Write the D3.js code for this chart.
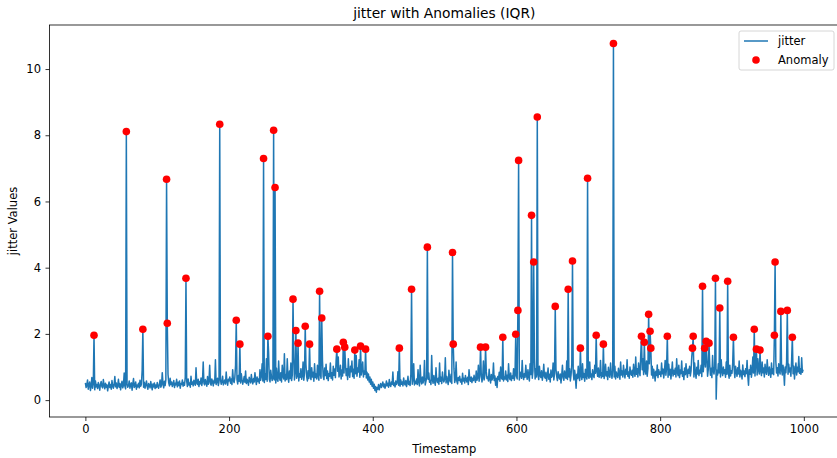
<!DOCTYPE html>
<html>
<head>
<meta charset="utf-8">
<script src="https://cdn.jsdelivr.net/npm/d3@7"></script>
<style>
  body { margin: 0; background: #fff; }
  svg { font-family: "DejaVu Sans", sans-serif; }
</style>
</head>
<body>
<div class="chart"></div>
<script>
// jitter readings, one per timestamp (0..999), anomalies laid over below
var jitter = [
  0.52,0.38,0.45,0.61,0.33,0.47,0.55,0.29,0.42,0.68,0.36,0.50,0.44,0.31,0.58,0.40,0.47,0.35,0.53,0.43,
  0.30,0.49,0.56,0.41,0.37,0.62,0.45,0.34,0.51,0.39,0.46,0.28,0.43,0.55,0.38,0.47,0.33,0.59,0.42,0.36,
  0.48,0.71,0.40,0.52,0.35,0.44,0.63,0.39,0.50,0.31,0.46,0.57,0.37,0.45,0.82,0.41,0.34,0.53,0.48,0.39,
  0.44,0.58,0.36,0.47,0.52,0.30,0.49,0.65,0.38,0.43,0.55,0.33,0.46,0.40,0.51,0.37,0.60,0.42,0.48,0.90,
  0.45,0.39,0.54,0.36,0.47,0.58,0.41,0.33,0.50,0.44,0.37,0.56,0.43,0.31,0.49,0.40,0.52,0.35,0.46,0.38,
  0.53,0.42,0.36,0.48,0.61,0.39,0.45,0.83,0.50,0.37,0.57,0.44,0.62,0.48,0.40,0.78,0.52,0.43,0.66,0.47,
  0.55,0.41,0.49,0.59,0.38,0.51,0.46,0.63,0.40,0.54,0.44,0.58,0.36,0.50,0.47,0.61,0.42,0.53,0.45,0.69,
  0.49,0.57,0.41,0.64,0.46,0.52,0.39,0.72,0.48,0.55,0.43,0.60,0.50,0.45,0.98,0.52,0.47,0.63,0.41,0.56,
  0.49,0.67,0.44,0.58,1.15,0.51,0.46,0.62,0.53,0.42,0.71,0.48,0.57,1.05,0.50,0.45,0.64,0.55,0.43,0.60,
  0.52,1.22,0.47,0.58,0.66,0.44,0.55,0.50,0.62,0.48,0.57,0.72,0.46,0.53,0.61,0.49,0.85,0.56,0.45,0.63,
  0.58,0.70,0.51,0.64,0.47,0.92,0.60,0.53,0.68,1.05,0.55,0.62,0.49,0.74,0.57,0.66,0.52,0.80,0.61,0.48,
  0.59,0.71,0.54,0.88,0.50,0.63,0.57,0.45,0.69,0.60,0.52,0.77,0.58,0.49,0.65,0.55,0.83,0.61,0.47,0.70,
  0.56,0.64,0.51,0.92,0.60,0.73,1.10,0.58,0.66,0.53,0.79,0.62,1.25,0.57,0.68,1.45,0.63,0.55,0.90,0.71,
  0.59,0.66,0.84,0.61,0.74,0.52,0.96,0.63,0.57,1.18,0.68,0.60,0.83,0.55,1.05,0.72,0.64,1.40,0.58,0.77,
  0.62,1.25,0.69,0.54,0.88,0.65,1.12,0.59,0.76,0.67,1.30,0.61,0.85,1.02,0.66,0.73,1.20,0.58,0.80,0.69,
  0.95,0.63,0.74,1.15,0.60,0.82,0.67,1.08,0.71,0.58,0.89,0.65,1.22,0.75,0.62,0.98,0.70,0.84,0.57,1.10,
  0.68,0.79,0.64,1.05,0.73,0.60,0.92,0.77,0.66,0.85,1.18,0.71,0.62,0.97,0.74,1.08,0.65,0.88,0.59,0.80,
  0.72,1.12,0.66,0.83,0.61,1.02,0.75,0.94,0.68,1.20,0.63,0.87,1.30,0.70,0.79,1.05,0.64,0.91,0.73,1.15,
  0.82,0.67,1.08,0.74,0.95,0.62,1.25,0.78,0.69,1.02,0.86,1.18,0.71,0.93,0.66,1.12,0.80,1.35,0.72,0.97,
  0.85,1.22,0.69,1.05,0.76,0.93,1.15,0.70,0.88,0.78,1.02,0.67,0.84,0.61,0.79,0.55,0.70,0.48,0.63,0.42,
  0.55,0.36,0.48,0.29,0.41,0.24,0.38,0.33,0.47,0.31,0.42,0.50,0.38,0.46,0.55,0.40,0.49,0.36,0.44,0.58,
  0.43,0.51,0.39,0.62,0.46,0.41,0.55,0.48,0.85,0.44,0.52,0.40,0.58,0.47,0.53,0.86,0.45,0.50,0.42,0.61,
  0.48,0.55,0.43,0.67,0.50,0.46,0.59,0.41,0.53,0.72,0.47,0.56,0.44,0.78,0.51,0.48,0.62,1.10,0.46,0.57,
  0.50,0.64,0.47,0.92,0.55,0.43,1.05,0.58,0.49,0.70,0.52,0.61,1.20,0.46,0.57,0.68,0.50,0.63,0.82,0.54,
  0.59,0.47,1.35,0.62,0.51,0.74,0.56,0.45,0.98,0.60,0.53,0.66,0.48,1.12,0.57,0.69,0.50,0.85,0.62,0.55,
  0.64,1.28,0.52,0.71,0.58,0.47,0.90,0.61,0.55,0.78,0.50,0.66,0.58,0.95,0.53,0.62,1.15,0.57,0.49,0.68,
  0.60,0.72,0.55,0.63,0.48,0.81,0.58,0.66,0.52,0.74,0.61,0.55,0.69,0.47,0.92,0.63,0.57,0.70,0.53,0.66,
  0.59,0.75,0.62,0.54,0.88,0.60,0.68,1.05,0.57,0.72,0.63,0.80,0.55,0.69,1.18,0.61,0.74,0.58,0.86,0.65,
  0.70,0.58,0.93,0.64,0.52,0.77,0.61,0.68,1.12,0.59,0.73,0.45,0.66,0.38,0.71,0.62,0.84,0.57,1.00,0.67,
  0.63,0.79,0.58,0.70,0.64,0.88,0.61,0.75,0.56,1.10,0.68,0.62,0.82,0.59,0.73,0.66,0.95,0.60,0.77,0.69,
  0.72,0.64,0.98,0.70,0.61,0.85,0.76,0.66,1.20,0.73,0.62,0.80,0.69,1.05,0.75,0.63,0.92,0.71,0.58,1.10,
  0.77,1.40,0.66,0.88,0.72,1.25,0.64,0.95,0.70,1.15,0.79,0.62,1.02,0.74,0.68,0.89,0.60,0.76,1.08,0.71,
  0.66,0.84,0.58,0.73,0.97,0.63,0.78,0.55,0.91,0.69,0.74,1.12,0.61,0.80,0.67,0.93,0.72,0.59,0.86,0.70,
  0.64,0.79,0.52,0.75,1.05,0.68,0.60,0.88,0.73,0.66,1.18,0.62,0.81,0.70,0.95,0.58,0.76,1.08,0.67,0.84,
  0.61,0.90,0.72,0.36,0.78,0.65,1.02,0.70,0.59,0.83,0.74,0.62,1.10,0.68,0.80,0.57,0.93,0.71,0.64,0.87,
  0.73,0.66,1.15,0.70,0.79,0.62,0.92,0.75,0.68,1.05,0.81,0.64,0.88,0.72,0.97,0.69,0.76,1.20,0.67,0.83,
  0.71,0.94,0.65,0.78,1.08,0.73,0.86,0.62,0.99,0.75,0.69,1.12,0.80,0.66,0.91,0.77,0.70,1.02,0.64,0.85,
  0.74,0.68,0.96,0.79,0.63,1.15,0.76,0.88,0.70,1.05,0.82,0.67,0.93,0.78,1.22,0.72,0.85,0.66,1.00,0.80,
  0.75,0.90,0.69,1.08,0.83,0.72,1.30,0.78,0.95,0.70,1.12,0.86,0.74,1.38,0.81,0.92,1.25,0.77,1.05,0.88,
  0.79,1.18,0.72,0.96,0.84,1.10,0.70,0.89,0.76,1.02,0.66,0.93,0.81,0.58,0.87,0.74,1.06,0.68,0.92,0.78,
  0.85,0.71,1.12,0.80,0.94,0.67,0.88,1.20,0.75,0.99,0.82,0.69,1.08,0.76,0.93,0.64,0.87,1.15,0.73,0.90,
  0.78,0.96,0.70,1.25,0.84,0.74,1.05,0.68,0.91,0.80,1.18,0.72,0.86,0.62,0.97,0.77,1.10,0.83,0.69,0.93,
  0.81,1.02,0.73,0.88,1.30,0.76,0.95,0.70,1.12,0.84,0.66,0.99,0.79,1.20,0.74,0.90,0.82,1.05,0.71,0.94,
  0.86,1.15,0.77,1.00,0.83,1.28,0.72,0.92,0.80,1.08,0.75,0.96,0.68,1.35,0.88,0.79,1.02,0.85,0.03,0.90,
  0.76,1.10,0.82,0.95,0.70,1.22,0.87,0.74,1.00,0.80,0.92,0.69,1.15,0.78,0.97,0.84,0.66,1.05,0.73,0.89,
  0.81,1.12,0.75,0.93,0.68,1.02,0.86,0.72,0.98,0.79,1.18,0.70,0.90,0.83,0.64,1.06,0.77,0.88,0.71,0.95,
  0.80,1.20,0.74,0.45,0.92,0.78,1.05,0.69,0.87,1.30,0.82,0.96,0.73,1.10,0.85,0.76,1.25,0.90,0.79,1.02,
  0.88,0.74,1.15,0.83,0.97,0.70,1.08,0.86,0.78,1.22,0.91,0.75,1.00,0.84,0.69,1.12,0.80,0.95,0.77,1.05,
  0.89,1.18,0.82,0.98,0.73,1.10,0.86,0.79,1.30,0.92,0.76,1.05,0.88,0.45,1.00,0.83,1.15,0.90,0.78,1.08,
  0.85,0.97,0.72,1.20,0.88,0.80,1.02,0.64,0.93,1.12,0.76,0.99,0.86,1.32,0.81,0.95,0.78,1.28,0.84,0.92
];

// points flagged by the IQR rule
var anomalyIdx = [12,57,80,113,114,140,187,210,215,248,254,262,264,289,293,296,306,312,326,329,
  350,359,361,375,383,390,437,454,476,511,512,550,557,581,599,602,603,621,624,629,
  654,672,678,689,699,711,721,735,774,778,784,786,787,810,845,846,859,862,864,868,
  877,883,894,902,931,934,939,959,960,968,977,984];
var anomalyVal = [1.96,8.11,2.14,6.67,2.32,3.68,8.33,2.41,1.69,7.30,1.93,8.15,6.42,3.05,2.10,1.72,2.23,1.69,3.29,2.48,
  1.54,1.75,1.60,1.51,1.63,1.54,1.57,3.35,4.62,4.46,1.69,1.60,1.60,1.90,1.99,2.71,7.24,5.58,4.17,8.55,
  2.83,3.35,4.20,1.57,6.70,1.96,1.69,10.77,1.93,1.75,2.59,2.08,1.57,1.93,1.57,1.93,3.44,1.57,1.78,1.72,
  3.68,2.78,3.59,1.90,2.14,1.54,1.51,1.96,4.17,2.68,2.71,1.90];

var xTicks = [0, 200, 400, 600, 800, 1000];
var yTicks = [0, 2, 4, 6, 8, 10];

var svgWidth = 837;
var svgHeight = 458;

// axes box in pixels (right spine sits just past the window edge)
var margin = { top: 25, right: -2, bottom: 41, left: 49.5 };
var width = svgWidth - margin.left - margin.right;
var height = svgHeight - margin.top - margin.bottom;

var svg = d3.select(".chart")
  .append("svg")
  .attr("width", svgWidth)
  .attr("height", svgHeight);

var chartGroup = svg.append("g")
  .attr("transform", `translate(${margin.left}, ${margin.top})`);

// merge the flagged values into the series
var series = jitter.map((v, i) => ({ t: i, v: v }));
var anomalies = anomalyIdx.map((t, k) => ({ t: t, v: anomalyVal[k] }));
anomalies.forEach(function (a) {
  if (series[a.t]) series[a.t].v = a.v;
});

var x_scale = d3.scaleLinear()
  .domain([-49.95, 1048.95])
  .range([0, width]);

var y_scale = d3.scaleLinear()
  .domain([-0.51, 11.33])
  .range([height, 0]);

var bottomAxis = d3.axisBottom(x_scale).tickValues(xTicks).tickFormat(d3.format("d"))
  .tickSize(4).tickPadding(4);
var leftAxis = d3.axisLeft(y_scale).tickValues(yTicks).tickFormat(d3.format("d"))
  .tickSize(4).tickPadding(4.5);

var xAxisG = chartGroup.append("g")
  .attr("transform", `translate(0, ${height})`)
  .call(bottomAxis);

var yAxisG = chartGroup.append("g").call(leftAxis);

[xAxisG, yAxisG].forEach(function (g) {
  g.select(".domain").remove();
  g.selectAll("line").attr("stroke", "#000").attr("stroke-width", 0.8);
  g.selectAll("text")
    .attr("fill", "#000")
    .style("font-family", "DejaVu Sans")
    .style("font-size", "11.5px");
});

// spines
chartGroup.append("rect")
  .attr("x", 0)
  .attr("y", 0)
  .attr("width", width)
  .attr("height", height)
  .attr("fill", "none")
  .attr("stroke", "#000")
  .attr("stroke-width", 0.8);

var line = d3.line()
  .x(d => x_scale(d.t))
  .y(d => y_scale(d.v));

chartGroup.append("path")
  .datum(series)
  .attr("d", line)
  .attr("fill", "none")
  .attr("stroke", "#1f77b4")
  .attr("stroke-width", 1.5)
  .attr("stroke-linejoin", "round");

chartGroup.selectAll("circle.anomaly")
  .data(anomalies)
  .enter()
  .append("circle")
  .attr("class", "anomaly")
  .attr("cx", d => x_scale(d.t))
  .attr("cy", d => y_scale(d.v))
  .attr("r", 3.8)
  .attr("fill", "red");

// title and axis labels
svg.append("text")
  .attr("x", margin.left + width / 2)
  .attr("y", 18)
  .attr("text-anchor", "middle")
  .style("font-size", "13.8px")
  .text("jitter with Anomalies (IQR)");

svg.append("text")
  .attr("x", margin.left + width / 2)
  .attr("y", 453)
  .attr("text-anchor", "middle")
  .style("font-size", "11.5px")
  .text("Timestamp");

svg.append("text")
  .attr("transform", "rotate(-90)")
  .attr("x", -(margin.top + height / 2))
  .attr("y", 17)
  .attr("text-anchor", "middle")
  .style("font-size", "11.5px")
  .text("jitter Values");

// legend
var legend = svg.append("g").attr("transform", "translate(739, 31)");
legend.append("rect")
  .attr("width", 95)
  .attr("height", 39)
  .attr("rx", 2)
  .attr("fill", "#fff")
  .attr("fill-opacity", 0.8)
  .attr("stroke", "#ccc")
  .attr("stroke-width", 0.8);
legend.append("line")
  .attr("x1", 5).attr("x2", 29)
  .attr("y1", 10).attr("y2", 10)
  .attr("stroke", "#1f77b4")
  .attr("stroke-width", 1.5);
legend.append("text")
  .attr("x", 39).attr("y", 14)
  .style("font-size", "11.5px")
  .text("jitter");
legend.append("circle")
  .attr("cx", 17).attr("cy", 29)
  .attr("r", 3.8)
  .attr("fill", "red");
legend.append("text")
  .attr("x", 39).attr("y", 33)
  .style("font-size", "11.5px")
  .text("Anomaly");
</script>
</body>
</html>
